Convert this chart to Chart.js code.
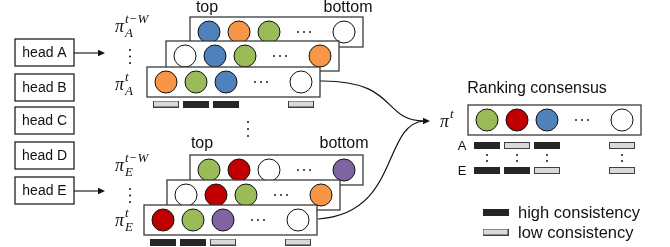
<!DOCTYPE html>
<html>
<head>
<meta charset="utf-8">
<script src="https://cdn.jsdelivr.net/npm/chart.js@4"></script>
<style>
  html, body { margin: 0; padding: 0; background: #fff; }
  #wrap { width: 670px; height: 247px; }
</style>
</head>
<body>
<div id="wrap"><canvas id="diagram"></canvas></div>
<script>
// --- data: rankings read left (top) to right (bottom), '…' marks the elided middle ---
const heads = ['head A', 'head B', 'head C', 'head D', 'head E'];
const rankA = [            // pi_A^{t-W} ... pi_A^t  (back to front)
  ['blue', 'orange', 'green', '…', 'white'],
  ['white', 'blue', 'green', '…', 'orange'],
  ['orange', 'green', 'blue', '…', 'white']
];
const rankE = [            // pi_E^{t-W} ... pi_E^t
  ['green', 'red', 'white', '…', 'purple'],
  ['white', 'red', 'green', '…', 'orange'],
  ['red', 'green', 'purple', '…', 'white']
];
const consensus = ['green', 'red', 'blue', '…', 'white'];
const consistA = ['low', 'high', 'high', '…', 'low'];
const consistE = ['high', 'high', 'low', '…', 'low'];
const consensusA = ['high', 'low', 'high', '…', 'low'];
const consensusE = ['high', 'high', 'low', '…', 'low'];
const legendItems = ['high consistency', 'low consistency'];

// --- layout / style ---
const PAL = { blue: '#4f81bd', orange: '#f79646', green: '#9bbb59', red: '#c00000', purple: '#8064a2', white: '#ffffff' };
const SLOT_X = [19, 49, 79, 114, 154];   // offsets inside a ranking box
const BOX_W = 173, BOX_H = 30;
const boxesA = [[190, 17], [166, 41], [147, 67]];
const boxesE = [[190, 155], [167, 180], [144, 205]];
const boxC = [468, 105];
const HEAD_Y = [39, 74, 107, 142, 177];
const FONT = '"Liberation Sans", Arial, sans-serif';
const SERIF = '"Liberation Serif", "Times New Roman", serif';

function barImage(level) {
  const c = document.createElement('canvas');
  c.width = 26; c.height = 7;
  const g = c.getContext('2d');
  if (level === 'high') {
    g.fillStyle = '#262626'; g.fillRect(0, 0, 26, 7);
  } else {
    g.fillStyle = '#d9d9d9'; g.fillRect(0, 0, 26, 7);
    g.strokeStyle = '#404040'; g.lineWidth = 1; g.strokeRect(0.5, 0.5, 25, 6);
  }
  return c;
}
const BAR = { high: barImage('high'), low: barImage('low') };

function rowDataset(colors, box, order) {
  const pts = [], bg = [];
  colors.forEach((c, i) => {
    if (c === '…') return;
    pts.push({ x: box[0] + SLOT_X[i], y: box[1] + BOX_H / 2 });
    bg.push(PAL[c]);
  });
  return {
    type: 'scatter', data: pts, box: box, order: order,
    pointRadius: 11, pointBackgroundColor: bg, pointBorderColor: '#111', pointBorderWidth: 1
  };
}

function barDataset(levels, left, cy) {
  const pts = [], styles = [];
  levels.forEach((l, i) => {
    if (l === '…') return;
    pts.push({ x: left + SLOT_X[i], y: cy });
    styles.push(BAR[l]);
  });
  return { type: 'scatter', data: pts, order: 0, pointRadius: 3, pointStyle: styles };
}

const datasets = [];
rankA.forEach((r, i) => datasets.push(rowDataset(r, boxesA[i], 3 - i)));
rankE.forEach((r, i) => datasets.push(rowDataset(r, boxesE[i], 3 - i)));
datasets.push(rowDataset(consensus, boxC, 1));
datasets.push(barDataset(consistA, boxesA[2][0], boxesA[2][1] + BOX_H + 7));
datasets.push(barDataset(consistE, boxesE[2][0], boxesE[2][1] + BOX_H + 7));
datasets.push(barDataset(consensusA, boxC[0], 145.5));
datasets.push(barDataset(consensusE, boxC[0], 170.5));
datasets.push({ type: 'scatter', order: 0, pointRadius: 3,
  data: legendItems.map((t, i) => ({ x: 495.5, y: 212 + i * 20 })),
  pointStyle: [BAR.high, BAR.low] });

// boxes are drawn right before the circles of their row
const rowBoxPlugin = {
  id: 'rowBox',
  beforeDatasetDraw(chart, args) {
    const ds = chart.data.datasets[args.index];
    if (!ds.box) return;
    const { ctx, scales: { x, y } } = chart;
    const l = x.getPixelForValue(ds.box[0]), t = y.getPixelForValue(ds.box[1]);
    const w = x.getPixelForValue(ds.box[0] + BOX_W) - l, h = y.getPixelForValue(ds.box[1] + BOX_H) - t;
    ctx.save();
    ctx.fillStyle = '#fff';
    ctx.fillRect(l, t, w, h);
    ctx.strokeStyle = '#3a3a3a'; ctx.lineWidth = 1.3;
    ctx.strokeRect(l, t, w, h);
    // horizontal ellipsis in the elided slot
    ctx.fillStyle = '#222';
    const cx = l + SLOT_X[3], cy = t + h / 2;
    [-6, 0, 6].forEach(d => { ctx.beginPath(); ctx.arc(cx + d, cy, 1, 0, Math.PI * 2); ctx.fill(); });
    ctx.restore();
  }
};

function arrowHead(ctx, x, y) {
  ctx.beginPath();
  ctx.moveTo(x, y); ctx.lineTo(x - 7, y - 3.2); ctx.lineTo(x - 7, y + 3.2); ctx.closePath();
  ctx.fill();
}

function vdots(ctx, x, ys) {
  ys.forEach(v => { ctx.beginPath(); ctx.arc(x, v, 1, 0, Math.PI * 2); ctx.fill(); });
}

function piLabel(ctx, x, base, sup, sub) {
  ctx.font = 'italic 18px ' + SERIF;
  ctx.textAlign = 'left'; ctx.textBaseline = 'alphabetic';
  ctx.fillText('π', x, base);
  ctx.font = 'italic 13px ' + SERIF;
  ctx.fillText(sup, x + 10, base - 9);
  if (sub) ctx.fillText(sub, x + 10, base + 5);
}

const annotations = {
  id: 'annotations',
  beforeDatasetsDraw(chart) {
    const { ctx } = chart;
    ctx.save();
    ctx.strokeStyle = '#111'; ctx.fillStyle = '#111'; ctx.lineWidth = 1.1;
    // head boxes
    ctx.font = '14px ' + FONT; ctx.textAlign = 'center'; ctx.textBaseline = 'middle';
    heads.forEach((h, i) => {
      ctx.fillStyle = '#fff'; ctx.fillRect(15, HEAD_Y[i], 59, 27);
      ctx.strokeStyle = '#222'; ctx.lineWidth = 1.3; ctx.strokeRect(15, HEAD_Y[i], 59, 27);
      ctx.fillStyle = '#111'; ctx.fillText(h, 44.5, HEAD_Y[i] + 14);
    });
    // head arrows
    ctx.lineWidth = 1.1; ctx.strokeStyle = '#111';
    [53, 191].forEach(v => {
      ctx.beginPath(); ctx.moveTo(74, v); ctx.lineTo(99, v); ctx.stroke();
      arrowHead(ctx, 105, v);
    });
    // curves to the consensus
    ctx.lineWidth = 1.2;
    ctx.beginPath(); ctx.moveTo(320, 81); ctx.bezierCurveTo(398, 80, 382, 121, 424, 121); ctx.stroke();
    ctx.beginPath(); ctx.moveTo(318, 219); ctx.bezierCurveTo(400, 214, 382, 124, 424, 121); ctx.stroke();
    arrowHead(ctx, 430, 121);
    ctx.restore();
  },
  afterDatasetsDraw(chart) {
    const { ctx } = chart;
    ctx.save();
    ctx.fillStyle = '#111';
    // top / bottom captions
    ctx.font = '16px ' + FONT; ctx.textAlign = 'center'; ctx.textBaseline = 'middle';
    ctx.fillText('top', 207, 8); ctx.fillText('bottom', 348, 8);
    ctx.fillText('top', 202, 144); ctx.fillText('bottom', 344, 144);
    ctx.fillText('Ranking consensus', 537, 89);
    // pi labels
    piLabel(ctx, 115, 32, 't−W', 'A');
    piLabel(ctx, 115, 90, 't', 'A');
    piLabel(ctx, 115, 171, 't−W', 'E');
    piLabel(ctx, 115, 226, 't', 'E');
    piLabel(ctx, 440, 127, 't', null);
    // vertical ellipses
    vdots(ctx, 130, [50, 56.5, 63]);
    vdots(ctx, 130, [189, 195.5, 202]);
    vdots(ctx, 248, [122, 129, 136]);
    SLOT_X.forEach((s, i) => { if (consensusA[i] !== '…') vdots(ctx, boxC[0] + s, [155, 161]); });
    // A / E row labels of consensus bars
    ctx.font = '13px ' + FONT; ctx.textAlign = 'center'; ctx.textBaseline = 'middle';
    ctx.fillText('A', 462, 146); ctx.fillText('E', 462, 171);
    // legend text
    ctx.font = '16.5px ' + FONT; ctx.textAlign = 'left';
    legendItems.forEach((t, i) => ctx.fillText(t, 518, 213 + i * 20));
    ctx.restore();
  }
};

new Chart(document.getElementById('diagram'), {
  type: 'scatter',
  data: { datasets },
  options: {
    responsive: true, maintainAspectRatio: false, animation: false, events: [],
    layout: { padding: 0, autoPadding: false },
    plugins: { legend: { display: false }, tooltip: { enabled: false } },
    scales: {
      x: { type: 'linear', min: 0, max: 670, display: false },
      y: { type: 'linear', min: 0, max: 247, reverse: true, display: false }
    }
  },
  plugins: [rowBoxPlugin, annotations]
});
</script>
</body>
</html>
